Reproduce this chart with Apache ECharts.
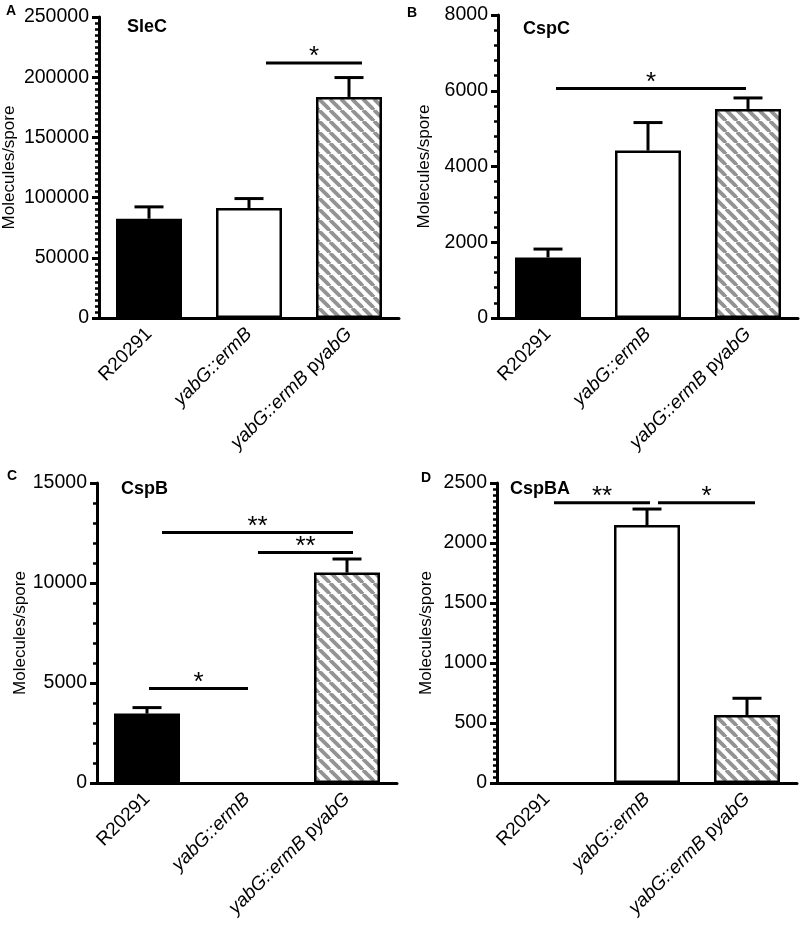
<!DOCTYPE html>
<html>
<head>
<meta charset="utf-8">
<script src="https://cdn.jsdelivr.net/npm/echarts@6/dist/echarts.min.js"></script>
<style>
html,body{margin:0;padding:0;background:#fff;}
#chart{width:800px;height:928px;}
</style>
</head>
<body>
<div id="chart"></div>
<script>
// ---- Data ----
const categories = ['R20291', 'yabG::ermB', 'yabG::ermB pyabG'];

const sleCMean = [82500, 91400, 183600];
const sleCErr  = [9800, 7800, 16100];
const cspCMean = [1600, 4420, 5520];
const cspCErr  = [220, 740, 290];
const cspBMean = [3470, 0, 10520];
const cspBErr  = [300, 0, 680];
const cspBAMean = [0, 2150, 567];
const cspBAErr  = [0, 133, 139];

// significance bars: [fromCategory, toCategory, yValue] (category units)
const sleCSig  = [[1.17, 2.13, 211700]];
const sleCSigLabels = ['*'];
const cspCSig  = [[0.08, 1.98, 6060]];
const cspCSigLabels = ['*'];
const cspBSig  = [[0.15, 2.06, 12530], [1.11, 2.06, 11530], [0.02, 1.01, 4720]];
const cspBSigLabels = ['**', '**', '*'];
const cspBASig = [[0.07, 1.03, 2336], [1.11, 2.08, 2336]];
const cspBASigLabels = ['**', '*'];

const yMax = [250000, 8000, 15000, 2500];
const yInterval = [50000, 2000, 5000, 500];
const yMinorSplit = [10, 5, 5, 10];
const panelTitles = ['SleC', 'CspC', 'CspB', 'CspBA'];
const panelLetters = ['A', 'B', 'C', 'D'];

// ---- Rendering ----
const FONT = '"Liberation Sans", Arial, Helvetica, sans-serif';

function makeHatch() {
  const s = 11;
  const c = document.createElement('canvas');
  c.width = s; c.height = s;
  const ctx = c.getContext('2d');
  ctx.fillStyle = '#fff';
  ctx.fillRect(0, 0, s, s);
  ctx.strokeStyle = '#939393';
  ctx.lineWidth = 3.8;
  for (const o of [-s, 0, s]) {
    ctx.beginPath();
    ctx.moveTo(o, 0);
    ctx.lineTo(o + s, s);
    ctx.stroke();
  }
  return c;
}
const hatch = { image: makeHatch(), repeat: 'repeat' };
const fills = ['#000', '#fff', hatch];

const grids = [
  { left: 98, top: 17, width: 301, height: 301 },
  { left: 498, top: 15, width: 300, height: 303 },
  { left: 97, top: 483, width: 300, height: 300 },
  { left: 497, top: 483, width: 300, height: 300 }
];
const nameGaps = [81, 65, 62, 62];
const means = [sleCMean, cspCMean, cspBMean, cspBAMean];
const errs = [sleCErr, cspCErr, cspBErr, cspBAErr];
const sigs = [sleCSig, cspCSig, cspBSig, cspBASig];
const sigLabels = [sleCSigLabels, cspCSigLabels, cspBSigLabels, cspBASigLabels];

function catLabel(v) {
  if (v === 'yabG::ermB') return '{i|yabG::ermB}';
  if (v === 'yabG::ermB pyabG') return '{i|yabG::ermB} p{i|yabG}';
  return v;
}

const xAxes = [], yAxes = [], series = [];
grids.forEach((g, k) => {
  xAxes.push({
    type: 'category', gridIndex: k, data: categories, boundaryGap: true,
    axisLine: { lineStyle: { color: '#000', width: 3 } },
    axisTick: { alignWithLabel: true, length: 7, lineStyle: { color: '#000', width: 3 } },
    axisLabel: {
      rotate: 45, margin: 13, fontSize: 19, color: '#000', fontFamily: FONT,
      interval: 0, formatter: catLabel,
      rich: { i: { fontStyle: 'italic', fontSize: 19, color: '#000', fontFamily: FONT } }
    }
  });
  yAxes.push({
    type: 'value', gridIndex: k, min: 0, max: yMax[k], interval: yInterval[k],
    name: 'Molecules/spore', nameLocation: 'middle', nameGap: nameGaps[k],
    nameTextStyle: { fontSize: 17, color: '#000', fontFamily: FONT },
    axisLine: { show: true, lineStyle: { color: '#000', width: 3 } },
    axisTick: { show: true, length: 7, lineStyle: { color: '#000', width: 3 } },
    minorTick: { show: true, splitNumber: yMinorSplit[k], length: 4, lineStyle: { color: '#000', width: 2.5 } },
    splitLine: { show: false },
    axisLabel: { margin: 10, fontSize: 19.5, color: '#000', fontFamily: FONT, formatter: v => String(v) }
  });
  series.push({
    type: 'bar', xAxisIndex: k, yAxisIndex: k, barWidth: '66%',
    data: means[k].map((v, i) => ({ value: v, itemStyle: { color: fills[i], borderWidth: v ? 2.5 : 0 } })),
    itemStyle: { borderColor: '#000', borderWidth: 2.5 },
    emphasis: { disabled: true }, animation: false, z: 2
  });
  series.push({
    type: 'custom', xAxisIndex: k, yAxisIndex: k, animation: false, z: 3,
    data: means[k].map((v, i) => [i, v, errs[k][i]]),
    encode: { x: 0, y: 1 },
    renderItem: function (params, api) {
      const v = api.value(1), e = api.value(2);
      if (!e) return null;
      const idx = params.dataIndex;
      const base = api.coord([idx, v]);
      const top = api.coord([idx, v + e]);
      const bw = api.size([1, 0])[0];
      const cw = bw * 0.29;
      return {
        type: 'group', children: [
          { type: 'line', shape: { x1: base[0], y1: base[1], x2: top[0], y2: top[1] }, style: { stroke: '#000', lineWidth: 3 } },
          { type: 'line', shape: { x1: top[0] - cw / 2, y1: top[1], x2: top[0] + cw / 2, y2: top[1] }, style: { stroke: '#000', lineWidth: 3 } }
        ]
      };
    }
  });
  series.push({
    type: 'custom', xAxisIndex: k, yAxisIndex: k, animation: false, z: 4, clip: false,
    data: sigs[k].map(s => [0, s[2]]),
    encode: { x: 0, y: 1 },
    renderItem: function (params, api) {
      const s = sigs[k][params.dataIndex];
      const c0 = api.coord([0, s[2]]);
      const bw = api.size([1, 0])[0];
      const x1 = c0[0] + s[0] * bw, x2 = c0[0] + s[1] * bw;
      return {
        type: 'group', children: [
          { type: 'line', shape: { x1: x1, y1: c0[1], x2: x2, y2: c0[1] }, style: { stroke: '#000', lineWidth: 3 } },
          { type: 'text', x: (x1 + x2) / 2, y: c0[1] + 7,
            style: { text: sigLabels[k][params.dataIndex], fontSize: 26, fontFamily: FONT, fill: '#000', align: 'center', verticalAlign: 'bottom' } }
        ]
      };
    }
  });
});

const titlePos = [[127, 18], [523, 20], [121, 480], [510, 480]];
const letterPos = [[6, 4], [407, 6], [7, 469], [421, 471]];
const titles = [];
panelTitles.forEach((t, k) => {
  titles.push({ text: t, left: titlePos[k][0], top: titlePos[k][1], padding: 0,
    textStyle: { fontSize: 18, fontWeight: 'bold', color: '#000', fontFamily: FONT } });
  titles.push({ text: panelLetters[k], left: letterPos[k][0], top: letterPos[k][1], padding: 0,
    textStyle: { fontSize: 14, fontWeight: 'bold', color: '#000', fontFamily: FONT } });
});

const chart = echarts.init(document.getElementById('chart'), null, { renderer: 'canvas' });
chart.setOption({
  backgroundColor: '#fff',
  animation: false,
  title: titles,
  grid: grids,
  xAxis: xAxes,
  yAxis: yAxes,
  series: series
});
</script>
</body>
</html>
